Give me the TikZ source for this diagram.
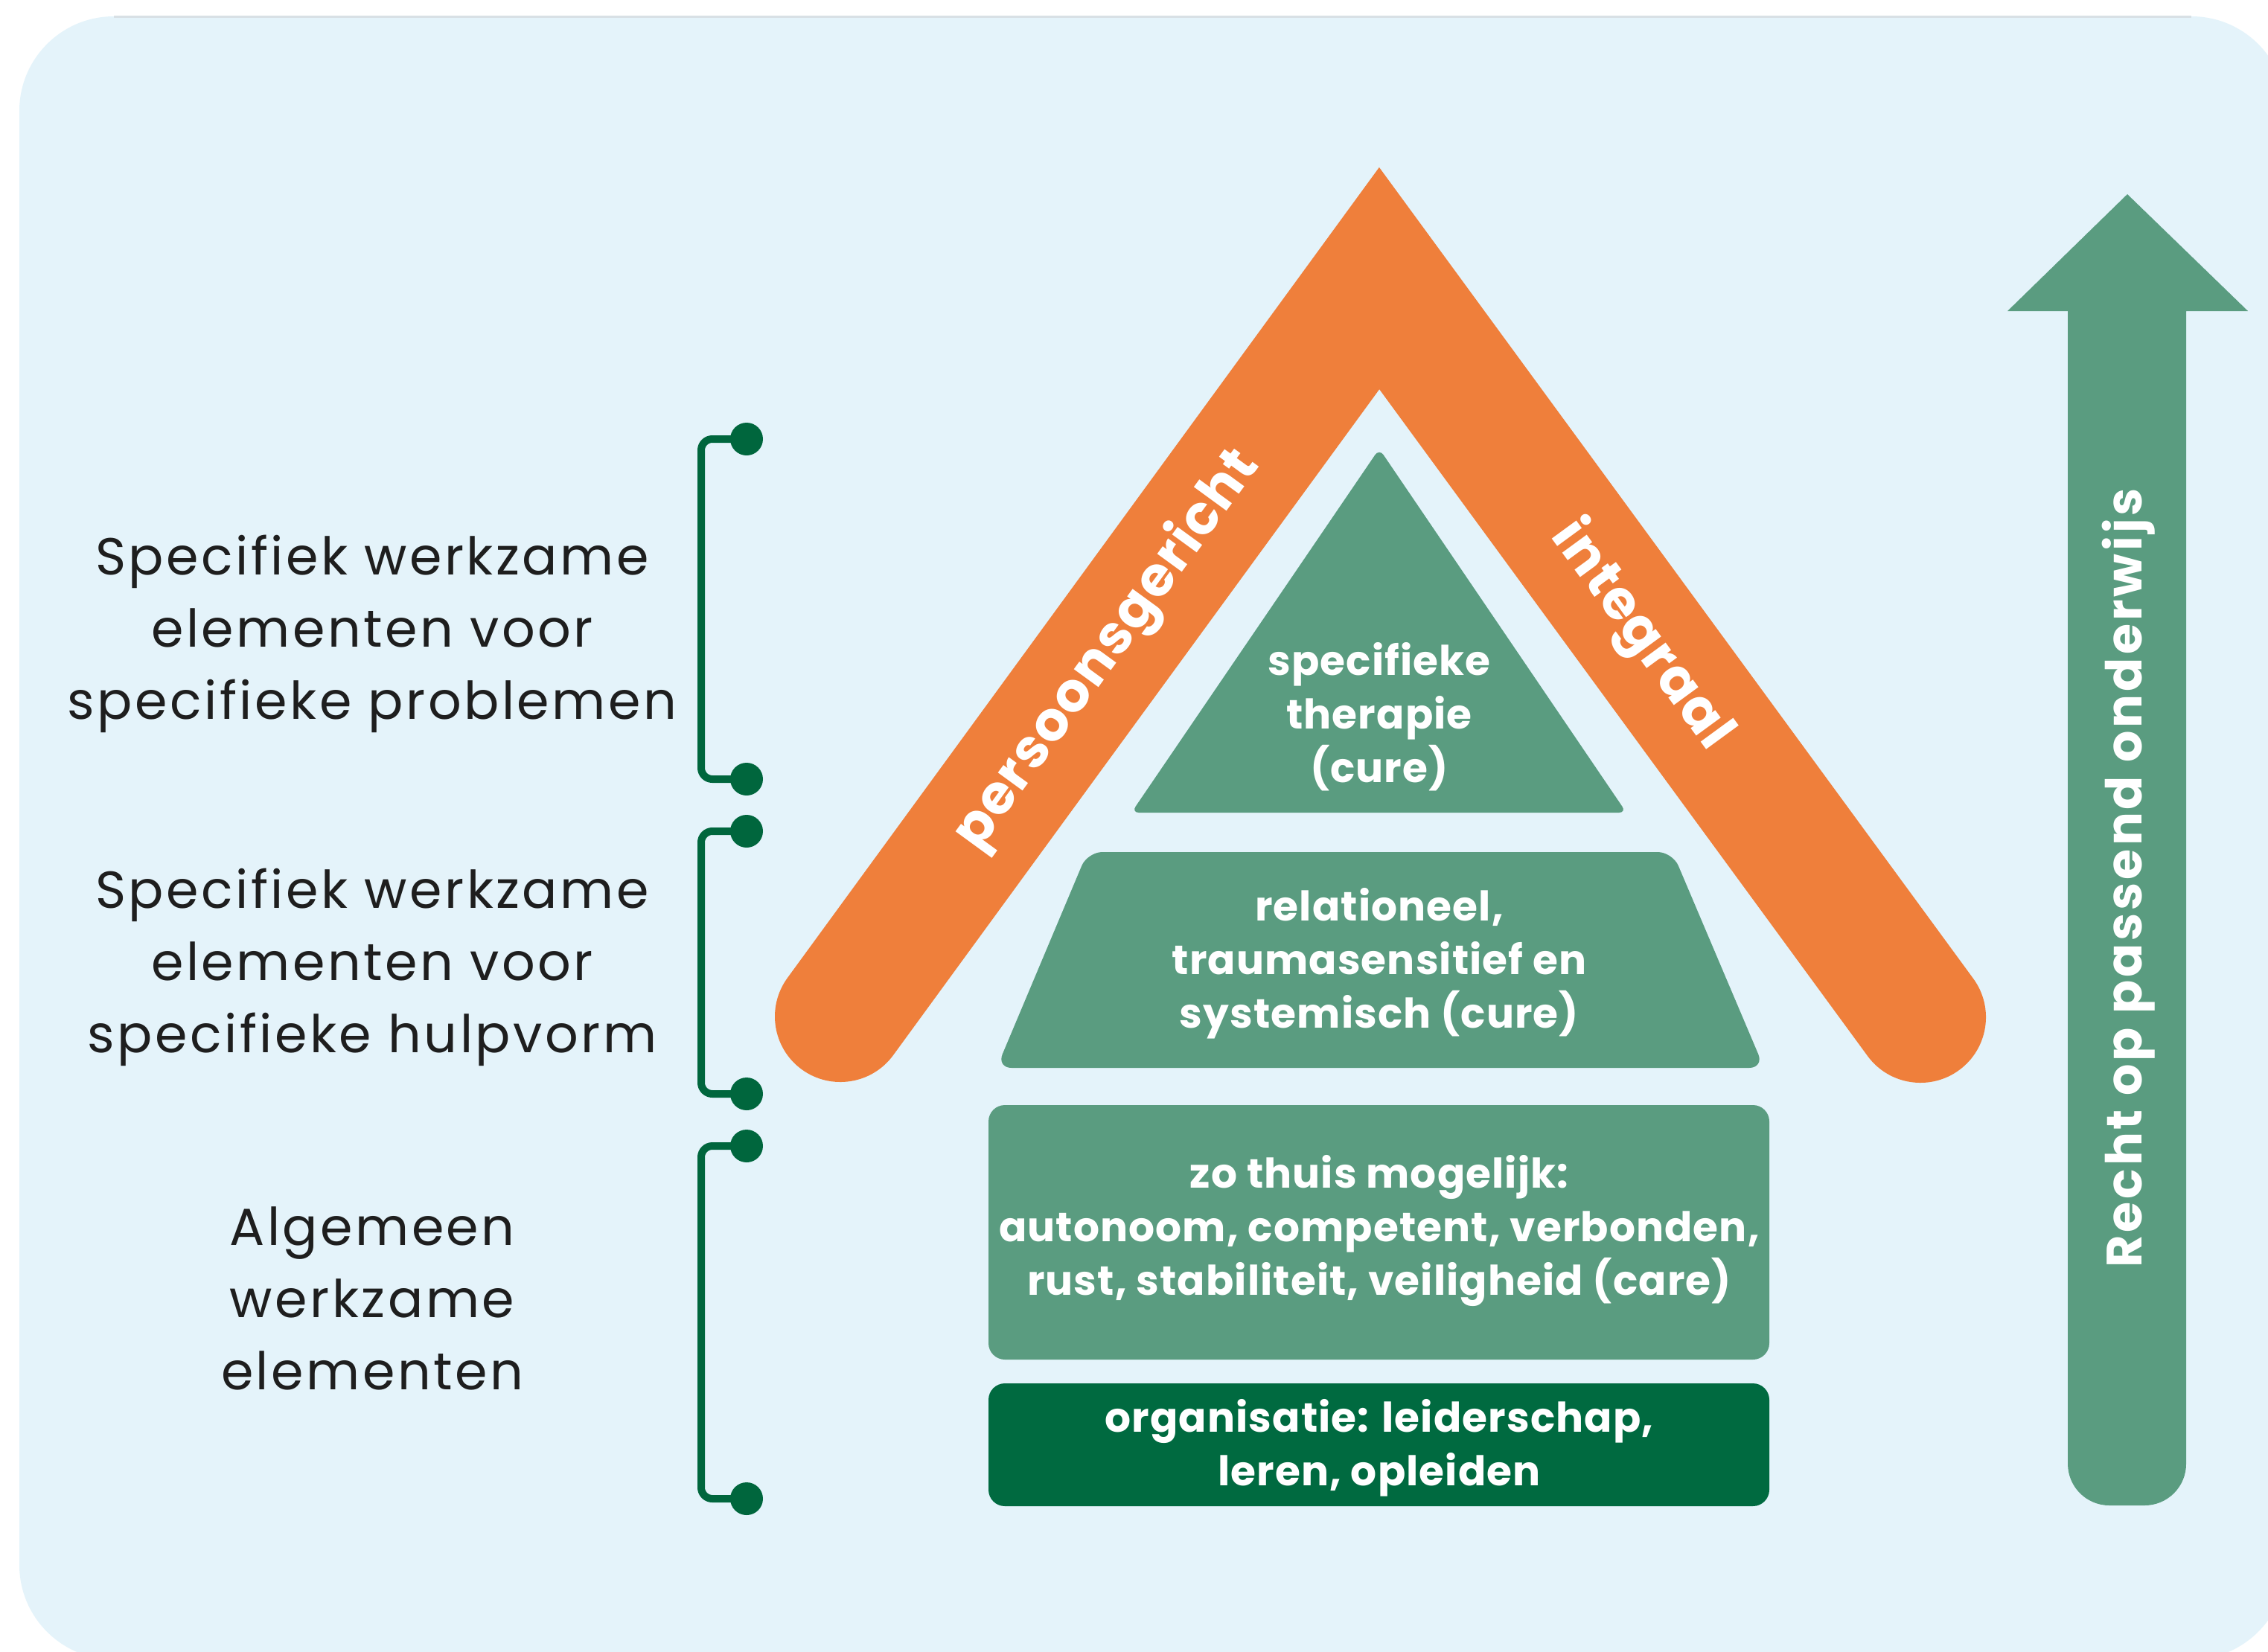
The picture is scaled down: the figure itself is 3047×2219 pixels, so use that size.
\documentclass[tikz,border=0pt]{standalone}
\usepackage{fontspec}
\setmainfont{Poppins}
\newfontfamily\lefttrack[LetterSpace=5]{Poppins}
\newfontfamily\boxtrack[LetterSpace=2]{Poppins}
\newfontfamily\arrowtrack[LetterSpace=6]{Poppins}
\definecolor{bgblue}{HTML}{E4F3FA}
\definecolor{topgray}{HTML}{D8E0E5}
\definecolor{roofor}{HTML}{EF7F3B}
\definecolor{midgreen}{HTML}{5A9C80}
\definecolor{darkgreen}{HTML}{006A40}
\definecolor{brkgreen}{HTML}{00663D}
\definecolor{inkblack}{HTML}{1E1E1E}
\tikzset{
  roof/.style={draw=roofor, line width=52.8pt, line join=miter, line cap=round},
  rooftext/.style={text=white, font=\boxtrack\bfseries\fontsize{22}{26}\selectfont, inner sep=0pt},
  boxtext/.style={text=white, align=center, inner sep=0pt, font=\boxtrack\bfseries\fontsize{16.5}{21.6}\selectfont},
  lefttext/.style={text=inkblack, align=center, inner sep=0pt, font=\lefttrack\fontsize{21}{29.1}\selectfont},
  dot/.style={circle, fill=brkgreen, minimum size=13.2pt, inner sep=0pt},
  brk/.style={draw=brkgreen, line width=3pt, rounded corners=4.5pt},
  arrowtext/.style={text=white, inner sep=0pt, font=\arrowtrack\bfseries\fontsize{20}{24}\selectfont}
}
\begin{document}
\begin{tikzpicture}[x=0.3pt,y=-0.3pt]
\useasboundingbox (0,0) rectangle (3047,2219);
\fill[white] (0,0) rectangle (3047,2219);
\begin{scope}
  \clip (0,0) rectangle (3047,2219);
  \fill[bgblue, rounded corners=38.1pt] (26,22) rectangle (3071,2230);
\end{scope}
\draw[topgray, line width=0.9pt] (153,22) -- (2944,22);

% roof
\coordinate (rl) at (1129,1366);
\coordinate (rt) at (1853,374);
\coordinate (rr) at (2580,1367);
\draw[roof] (rl) -- (rt) -- (rr);
\path (rl) -- node[rooftext, sloped, pos=0.496] (pg) {persoonsgericht} (rt);
\path (rt) -- node[rooftext, sloped, pos=0.484] (ig) {integraal} (rr);

% tiers
\fill[midgreen, rounded corners=3pt] (1853,603) -- (2185,1092) -- (1520,1092) -- cycle;
\node[boxtext] (t1) at (1853,963) {specifieke\\therapie\\(cure)};
\fill[midgreen, rounded corners=6pt] (1461,1145) -- (2247,1145) -- (2370,1435) -- (1339,1435) -- cycle;
\node[boxtext] (t2) at (1853,1295) {relationeel,\\traumasensitief en\\systemisch (cure)};
\fill[midgreen, rounded corners=6.6pt] (1328,1485) rectangle (2377,1827);
\node[boxtext] (t3) at (1853,1654) {zo thuis mogelijk:\\autonoom, competent, verbonden,\\rust, stabiliteit, veiligheid (care)};
\fill[darkgreen, rounded corners=6.6pt] (1328,1859) rectangle (2377,2024);
\node[boxtext] (t4) at (1853,1946) {organisatie: leiderschap,\\leren, opleiden};

% arrow
\fill[midgreen] (2937,418) -- (2937,1967) .. controls (2937,1998) and (2912,2023) .. (2881,2023)
  -- (2834,2023) .. controls (2803,2023) and (2778,1998) .. (2778,1967)
  -- (2778,418) -- (2697,418) -- (2858,261) -- (3020,418) -- cycle;
\node[arrowtext, rotate=90] (recht) at (2860,1180) {Recht op passend onderwijs};

% left labels
\node[lefttext] (l1) at (500,852) {Specifiek werkzame\\elementen voor\\specifieke problemen};
\node[lefttext] (l2) at (500,1300) {Specifiek werkzame\\elementen voor\\specifieke hulpvorm};
\node[lefttext] (l3) at (500,1745) {Algemeen\\werkzame\\elementen};

% brackets
\draw[brk] (1003,590) -- (942,590) -- (942,1047) -- (1003,1047);
\node[dot] (d1a) at (1003,590) {};
\node[dot] (d1b) at (1003,1047) {};
\draw[brk] (1003,1117) -- (942,1117) -- (942,1470) -- (1003,1470);
\node[dot] (d2a) at (1003,1117) {};
\node[dot] (d2b) at (1003,1470) {};
\draw[brk] (1003,1540) -- (942,1540) -- (942,2014) -- (1003,2014);
\node[dot] (d3a) at (1003,1540) {};
\node[dot] (d3b) at (1003,2014) {};
\end{tikzpicture}
\end{document}
